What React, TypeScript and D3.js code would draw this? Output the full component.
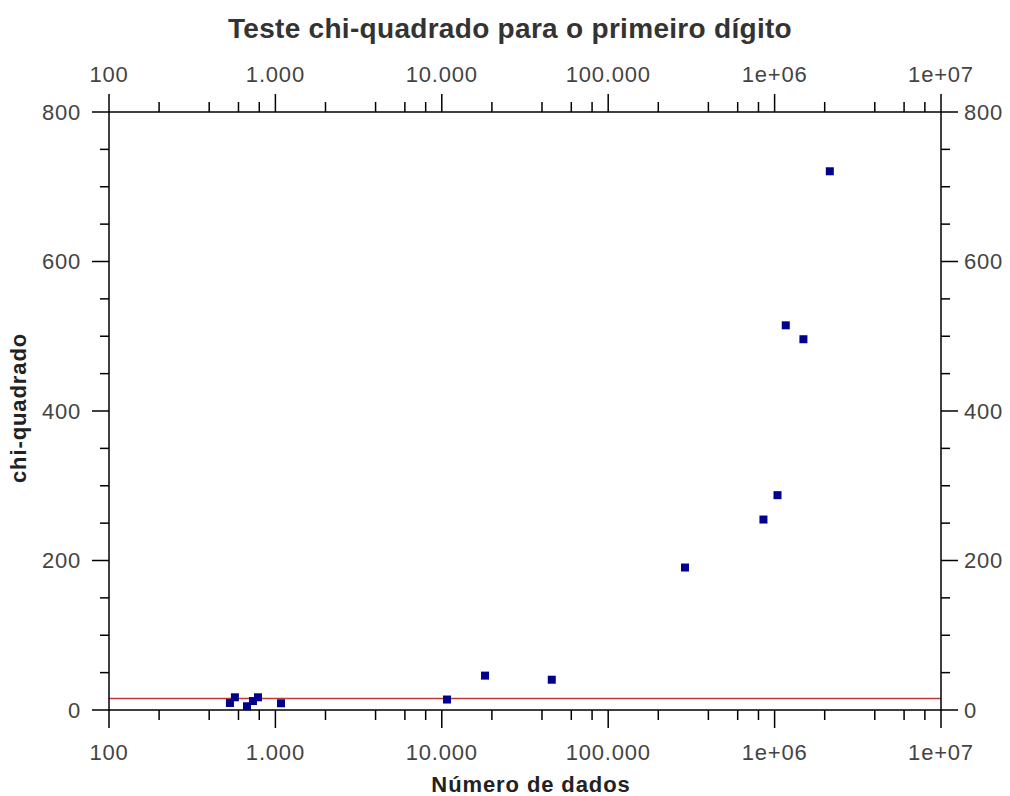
import React from "react";
import * as d3 from "d3";

const nData: number[] = [533, 571, 675, 733, 786, 1081, 10745, 18190, 45800, 289400, 857000, 1041000, 1167000, 1490000, 2147000];
const chiValues: number[] = [9.4, 17, 5, 12, 17, 9, 14, 46, 40.5, 190.6, 254.8, 287.4, 514.6, 496, 720.7];
const criticalValue = 15.51;
const xTickValues: number[] = [100, 1000, 10000, 100000, 1000000, 10000000];
const xTickLabels: string[] = ["100", "1.000", "10.000", "100.000", "1e+06", "1e+07"];
const yTickValues: number[] = [0, 200, 400, 600, 800];

const W = 1010;
const H = 796;
const L = 109;
const R = 941;
const T = 112;
const B = 710;

export default function App() {
  const x = d3.scaleLog().domain([100, 1e7]).range([L, R]);
  const y = d3.scaleLinear().domain([0, 800]).range([B, T]);

  const minorX: number[] = [];
  for (let e = 2; e < 7; e++) {
    for (const m of [2, 4, 6, 8]) minorX.push(m * Math.pow(10, e));
  }
  const minorY: number[] = d3.range(50, 800, 50).filter((v) => v % 200 !== 0);

  const tickColor = "#000";
  const labelColor = "#444";
  const font = "'Liberation Sans', Arial, sans-serif";
  const tickFs = 22;

  return (
    <div style={{ position: "absolute", left: 0, top: 0 }}>
      <svg width={W} height={H} style={{ display: "block", background: "#fff" }} fontFamily={font}>
        <text x={510} y={38} textAnchor="middle" fontSize={28} fontWeight="bold" fill="#333" letterSpacing={0.3}>
          Teste chi-quadrado para o primeiro dígito
        </text>

        {/* critical line */}
        <line x1={L} x2={R} y1={y(criticalValue)} y2={y(criticalValue)} stroke="#c03838" strokeWidth={1.5} />

        {/* frame */}
        <rect x={L} y={T} width={R - L} height={B - T} fill="none" stroke={tickColor} strokeWidth={1.5} />

        {/* x ticks bottom & top */}
        {xTickValues.map((v, i) => (
          <g key={"xt" + i}>
            <line x1={x(v)} x2={x(v)} y1={B} y2={B + 18} stroke={tickColor} strokeWidth={1.5} />
            <line x1={x(v)} x2={x(v)} y1={T} y2={T - 18} stroke={tickColor} strokeWidth={1.5} />
            <text x={x(v)} y={760} textAnchor="middle" fontSize={tickFs} fill={labelColor} letterSpacing={0.8}>
              {xTickLabels[i]}
            </text>
            <text x={x(v)} y={82} textAnchor="middle" fontSize={tickFs} fill={labelColor} letterSpacing={0.8}>
              {xTickLabels[i]}
            </text>
          </g>
        ))}
        {minorX.map((v, i) => (
          <g key={"xm" + i}>
            <line x1={x(v)} x2={x(v)} y1={B} y2={B + 10} stroke={tickColor} strokeWidth={1.5} />
            <line x1={x(v)} x2={x(v)} y1={T} y2={T - 10} stroke={tickColor} strokeWidth={1.5} />
          </g>
        ))}

        {/* y ticks left & right */}
        {yTickValues.map((v, i) => (
          <g key={"yt" + i}>
            <line x1={L} x2={L - 17} y1={y(v)} y2={y(v)} stroke={tickColor} strokeWidth={1.5} />
            <line x1={R} x2={R + 17} y1={y(v)} y2={y(v)} stroke={tickColor} strokeWidth={1.5} />
            <text x={81} y={y(v)} dy="0.36em" textAnchor="end" fontSize={tickFs} fill={labelColor} letterSpacing={0.8}>
              {String(v)}
            </text>
            <text x={964} y={y(v)} dy="0.36em" textAnchor="start" fontSize={tickFs} fill={labelColor} letterSpacing={0.8}>
              {String(v)}
            </text>
          </g>
        ))}
        {minorY.map((v, i) => (
          <g key={"ym" + i}>
            <line x1={L} x2={L - 9} y1={y(v)} y2={y(v)} stroke={tickColor} strokeWidth={1.5} />
            <line x1={R} x2={R + 9} y1={y(v)} y2={y(v)} stroke={tickColor} strokeWidth={1.5} />
          </g>
        ))}

        {/* points */}
        {nData.map((n, i) => (
          <rect key={"p" + i} x={x(n) - 4} y={y(chiValues[i]) - 4} width={8} height={8} fill="#00008c" />
        ))}

        {/* axis labels */}
        <text x={531} y={792} textAnchor="middle" fontSize={22} fontWeight="bold" fill="#222" letterSpacing={0.9}>
          Número de dados
        </text>
        <text
          transform={`translate(26, 408) rotate(-90)`}
          textAnchor="middle"
          fontSize={22}
          fontWeight="bold"
          fill="#222"
          letterSpacing={0.9}
        >
          chi-quadrado
        </text>
      </svg>
    </div>
  );
}
